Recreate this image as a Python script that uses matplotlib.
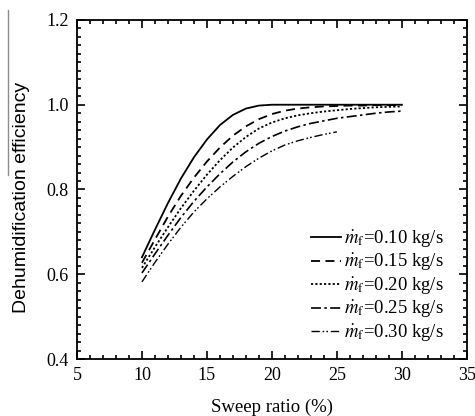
import numpy as np
import matplotlib
matplotlib.use('Agg')
import matplotlib.pyplot as plt
from matplotlib.ticker import MultipleLocator, FormatStrFormatter

plt.rcParams['font.family'] = 'Liberation Serif'
plt.rcParams['mathtext.fontset'] = 'stix'

# sweep ratio (%) and dehumidification efficiency for each feed flow rate
sweep = [10, 11, 12, 13, 14, 15, 16, 17, 18, 19, 20,
         21, 22, 23, 24, 25, 26, 27, 28, 29, 30]
eff_010 = [0.640, 0.705, 0.768, 0.826, 0.876, 0.918, 0.952, 0.976, 0.991, 0.998, 1.000,
           1.000, 1.000, 1.000, 1.000, 1.000, 1.000, 1.000, 1.000, 1.000, 1.000]
eff_015 = [0.627, 0.682, 0.736, 0.785, 0.828, 0.866, 0.899, 0.927, 0.949, 0.966, 0.978,
           0.986, 0.991, 0.994, 0.996, 0.997, 0.998, 0.998, 0.999, 0.999, 0.999]
eff_020 = [0.615, 0.664, 0.711, 0.756, 0.797, 0.835, 0.869, 0.899, 0.924, 0.944, 0.958,
           0.968, 0.975, 0.980, 0.984, 0.987, 0.990, 0.992, 0.994, 0.995, 0.996]
eff_025 = [0.603, 0.648, 0.692, 0.734, 0.772, 0.806, 0.837, 0.865, 0.889, 0.909, 0.925,
           0.938, 0.948, 0.956, 0.962, 0.968, 0.972, 0.976, 0.980, 0.983, 0.985]
sweep_030 = [10, 11, 12, 13, 14, 15, 16, 17, 18, 19, 20, 21, 22, 23, 24, 25]
eff_030 = [0.582, 0.628, 0.671, 0.711, 0.747, 0.778, 0.806, 0.831, 0.854, 0.874, 0.891,
           0.905, 0.915, 0.923, 0.930, 0.936]

flow_labels = ['0.10', '0.15', '0.20', '0.25', '0.30']

fig = plt.figure(figsize=(4.75, 4.16), dpi=100)
ax = fig.add_axes([0.162, 0.137, 0.821, 0.815])

styles = [
    dict(linestyle='-', lw=1.3),
    dict(linestyle=(0, (5, 3)), lw=1.3),
    dict(linestyle=(0, (1.2, 1.2)), lw=1.3),
    dict(linestyle=(0, (6, 2, 1.5, 2)), lw=1.2),
    dict(linestyle=(0, (6, 2, 1.2, 1.5, 1.2, 2)), lw=1.0),
]
series = [(sweep, eff_010), (sweep, eff_015), (sweep, eff_020),
          (sweep, eff_025), (sweep_030, eff_030)]

for (xs, ys), lab, st in zip(series, flow_labels, styles):
    ax.plot(xs, ys, color='black',
            label=r'$\dot{m}_{\rm f}$=' + lab + ' kg/s', **st)

ax.set_xlim(5, 35)
ax.set_ylim(0.4, 1.2)
ax.xaxis.set_major_locator(MultipleLocator(5))
ax.xaxis.set_minor_locator(MultipleLocator(1))
ax.yaxis.set_major_locator(MultipleLocator(0.2))
ax.yaxis.set_minor_locator(MultipleLocator(0.02))
ax.yaxis.set_major_formatter(FormatStrFormatter('%.1f'))
ax.tick_params(which='both', direction='in', top=True, right=True,
               labelsize=13, width=1.2)
ax.tick_params(which='major', length=6, pad=6)
ax.tick_params(which='minor', length=3)
for sp in ax.spines.values():
    sp.set_linewidth(1.3)

ax.set_xlabel('Sweep ratio (%)', fontsize=13.5, labelpad=10)
ax.set_ylabel('Dehumidification efficiency', fontsize=14, family='Liberation Sans')
ax.yaxis.set_label_coords(-0.121, 0.476)

leg = ax.legend(loc='lower right', frameon=False, fontsize=13.5,
                handlelength=1.6, handletextpad=0.15, labelspacing=0.12,
                bbox_to_anchor=(0.984, -0.005))

# thin grey rule left of the axis title
fig.add_artist(plt.Line2D([0.017, 0.017], [0.58, 0.976], color='0.55', lw=1.0))

fig.savefig('out.png', dpi=100)
